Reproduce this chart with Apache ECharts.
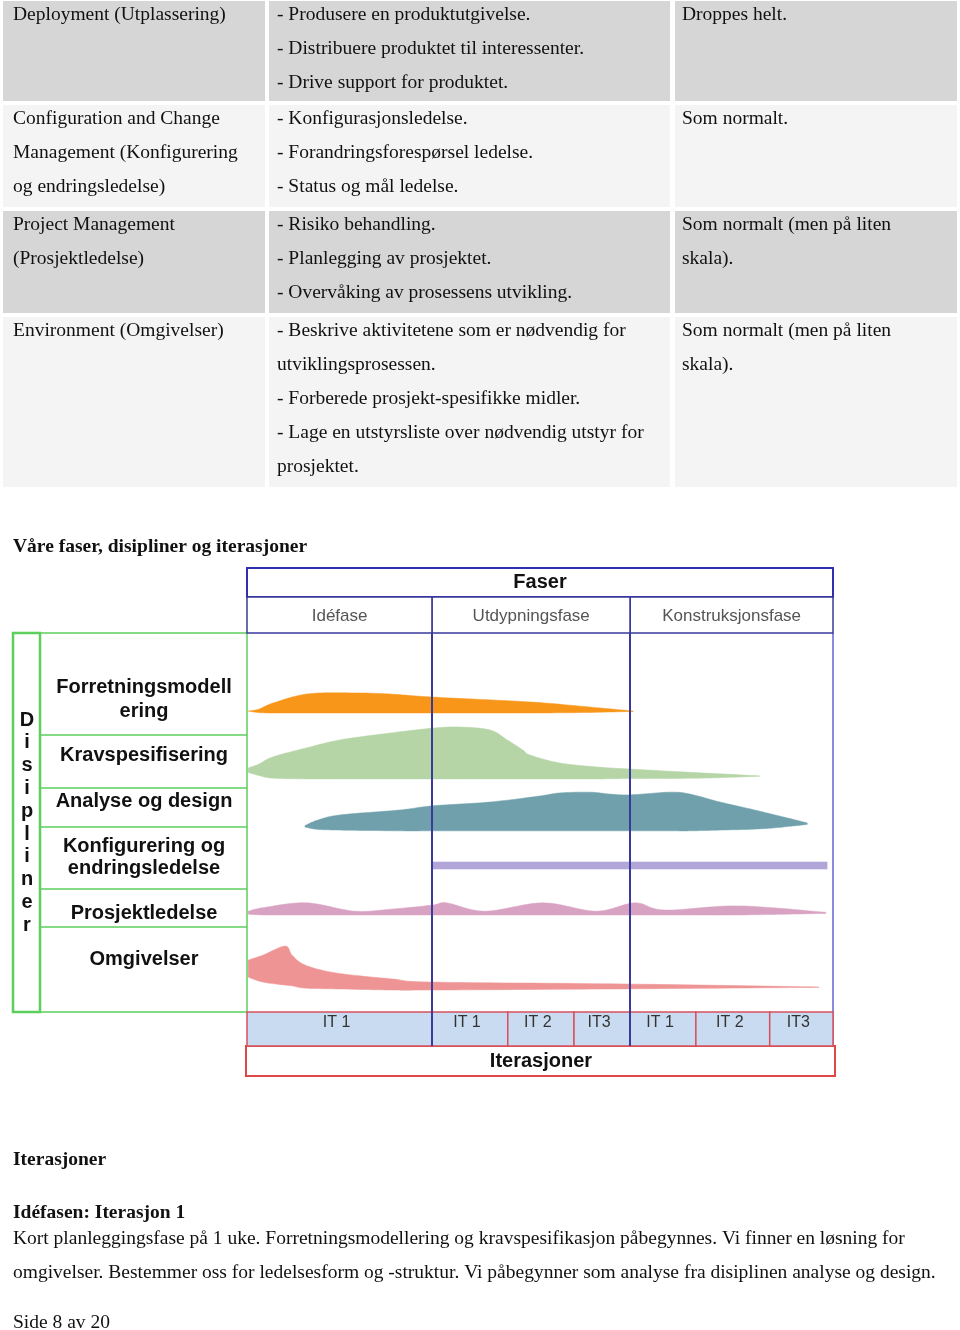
<!DOCTYPE html>
<html><head><meta charset="utf-8">
<script src="https://cdn.jsdelivr.net/npm/echarts@6/dist/echarts.min.js"></script>
<style>html,body{margin:0;padding:0;background:#fff}#c{width:960px;height:1330px}</style>
</head><body><div id="c"></div>
<script>
// ---------- table text ----------
const tableNames = [
  ['Deployment (Utplassering)'],
  ['Configuration and Change', 'Management (Konfigurering', 'og endringsledelse)'],
  ['Project Management', '(Prosjektledelse)'],
  ['Environment (Omgivelser)']
];
const tableActs = [
  ['- Produsere en produktutgivelse.', '- Distribuere produktet til interessenter.', '- Drive support for produktet.'],
  ['- Konfigurasjonsledelse.', '- Forandringsforespørsel ledelse.', '- Status og mål ledelse.'],
  ['- Risiko behandling.', '- Planlegging av prosjektet.', '- Overvåking av prosessens utvikling.'],
  ['- Beskrive aktivitetene som er nødvendig for', 'utviklingsprosessen.', '- Forberede prosjekt-spesifikke midler.', '- Lage en utstyrsliste over nødvendig utstyr for', 'prosjektet.']
];
const tableNotes = [
  ['Droppes helt.'],
  ['Som normalt.'],
  ['Som normalt (men på liten', 'skala).'],
  ['Som normalt (men på liten', 'skala).']
];

// ---------- diagram labels ----------
const chartHeading = 'Våre faser, disipliner og iterasjoner';
const phaseTitle = 'Faser';
const phaseNames = ['Idéfase', 'Utdypningsfase', 'Konstruksjonsfase'];
const phaseBounds = [0, 31.6, 65.4, 100];           // % of project time
const iterTitle = 'Iterasjoner';
const iterNames = ['IT 1', 'IT 1', 'IT 2', 'IT3', 'IT 1', 'IT 2', 'IT3'];
const iterBounds = [0, 31.6, 44.5, 55.8, 65.4, 76.6, 89.2, 100];
const disciplineWord = 'Disipliner';
const disciplineLabels = [['Forretningsmodell', 'ering'], ['Kravspesifisering'], ['Analyse og design'],
  ['Konfigurering og', 'endringsledelse'], ['Prosjektledelse'], ['Omgivelser']];

// ---------- hump profiles: x = % of project time, top/bottom = % depth of the discipline area ----------
const forretX      = [0.2, 2.0, 4.4, 10.2, 17.6, 24.4, 31.6, 48.3, 56.8, 65.9];
const forretTop    = [20.6, 20.1, 18.5, 16.1, 15.8, 16.1, 16.9, 18.2, 19.3, 20.6];
const forretBottom = [20.6, 21.0, 21.1, 21.1, 21.1, 21.1, 21.1, 21.1, 21.0, 20.7];

const kravX      = [0.2, 2.0, 4.4, 10.2, 15.9, 24.4, 31.7, 36.3, 41.5, 44.4, 47.1, 48.3, 53.4, 60.2, 65.4, 77.3, 87.5];
const kravTop    = [35.6, 34.6, 32.7, 30.3, 28.2, 26.4, 25.1, 24.8, 25.6, 28.2, 30.9, 32.2, 34.3, 35.4, 35.9, 36.9, 37.7];
const kravBottom = [36.8, 37.6, 38.3, 38.5, 38.5, 38.5, 38.5, 38.5, 38.5, 38.5, 38.5, 38.5, 38.5, 38.5, 38.4, 38.3, 37.8];

const anaX      = [9.9, 12.0, 15.9, 26.1, 31.7, 41.5, 50.0, 53.4, 58.5, 61.9, 65.4, 72.2, 75.6, 80.7, 85.8, 90.1, 95.6];
const anaTop    = [50.8, 49.4, 48.0, 46.7, 45.6, 44.6, 43.0, 42.2, 42.0, 42.5, 42.7, 42.0, 42.5, 44.6, 46.4, 48.0, 50.1];
const anaBottom = [51.2, 51.8, 52.0, 52.2, 52.2, 52.2, 52.2, 52.2, 52.2, 52.2, 52.2, 52.2, 52.2, 52.0, 51.8, 51.4, 50.5];

const konfX      = [31.7, 65.4, 99.0];
const konfTop    = [60.4, 60.4, 60.4];
const konfBottom = [62.3, 62.3, 62.3];

const prosX      = [0.2, 3.0, 10.2, 18.4, 25.0, 31.6, 34.1, 40.6, 50.5, 59.6, 66.2, 71.3, 83.8, 98.8];
const prosTop    = [73.4, 72.4, 71.2, 73.4, 72.8, 71.8, 71.2, 73.4, 71.2, 73.4, 71.2, 73.1, 72.0, 73.7];
const prosBottom = [74.2, 74.4, 74.4, 74.4, 74.4, 74.4, 74.4, 74.4, 74.4, 74.4, 74.4, 74.4, 74.4, 74.0];

const omgX      = [0.2, 2.7, 6.5, 7.7, 9.9, 15.2, 24.9, 31.6, 64.2, 97.6];
const omgTop    = [86.3, 85.0, 82.6, 85.0, 87.6, 89.7, 91.3, 92.1, 92.6, 93.4];
const omgBottom = [90.8, 92.1, 92.9, 93.1, 93.7, 93.9, 94.2, 94.2, 93.9, 93.5];

// ---------- body text ----------
const sectionTitle = 'Iterasjoner';
const subTitle = 'Idéfasen: Iterasjon 1';
const paragraphLines = [
  'Kort planleggingsfase på 1 uke. Forretningsmodellering og kravspesifikasjon påbegynnes. Vi finner en løsning for',
  'omgivelser. Bestemmer oss for ledelsesform og -struktur. Vi påbegynner som analyse fra disiplinen analyse og design.'
];
const footer = 'Side 8 av 20';

// ================= build =================
const SERIF = '"Liberation Serif", "Times New Roman", serif';
const SANS = '"Liberation Sans", Arial, sans-serif';
const BLUE = '#3a3a9c';
const GREEN = '#5ccf5c';
const RED = '#e04848';

const profiles = [
  {x: forretX, top: forretTop, bottom: forretBottom, color: '#f8961a'},
  {x: kravX, top: kravTop, bottom: kravBottom, color: '#b5d5a7'},
  {x: anaX, top: anaTop, bottom: anaBottom, color: '#6fa0ab'},
  {x: konfX, top: konfTop, bottom: konfBottom, color: '#b2a6d9'},
  {x: prosX, top: prosTop, bottom: prosBottom, color: '#d8a3c3'},
  {x: omgX, top: omgTop, bottom: omgBottom, color: '#ee9494'}
];

const g = [];
// table
const rowTops = [1, 105, 211, 317], rowBots = [101, 207, 313, 487];
const colL = [3, 269, 675], colR = [265, 670, 957], colText = [13, 277, 682];
const rowFill = ['#d6d6d6', '#f4f4f4', '#d6d6d6', '#f4f4f4'];
const tableCols = [tableNames, tableActs, tableNotes];
for (let r = 0; r < 4; r++) {
  for (let c = 0; c < 3; c++) {
    g.push({type: 'rect', shape: {x: colL[c], y: rowTops[r], width: colR[c] - colL[c], height: rowBots[r] - rowTops[r]},
      style: {fill: rowFill[r]}, z: 0});
    tableCols[c][r].forEach((line, k) => {
      g.push({type: 'text', x: colText[c], y: rowTops[r] + 14 + 34 * k, z: 1,
        style: {text: line, fontFamily: SERIF, fontSize: 19.5, fill: '#111', verticalAlign: 'middle'}});
    });
  }
}
function serifText(txt, x, y, bold) {
  g.push({type: 'text', x: x, y: y, z: 1, style: {text: txt, fontFamily: SERIF, fontSize: 19.5,
    fontWeight: bold ? 'bold' : 'normal', fill: '#111', verticalAlign: 'middle'}});
}
serifText(chartHeading, 13, 547, true);
serifText(sectionTitle, 13, 1160, true);
serifText(subTitle, 13, 1213, true);
paragraphLines.forEach((l, i) => serifText(l, 13, 1239 + 34 * i, false));
serifText(footer, 13, 1323, false);

// diagram frames
g.push({type: 'rect', shape: {x: 247, y: 568, width: 586, height: 29}, style: {fill: '#fff', stroke: '#2f2fb0', lineWidth: 2}, z: 2});
g.push({type: 'text', x: 540, y: 582, z: 3, style: {text: phaseTitle, fontFamily: SANS, fontSize: 20, fontWeight: 'bold', fill: '#111', align: 'center', verticalAlign: 'middle'}});
g.push({type: 'line', shape: {x1: 833, y1: 633, x2: 833, y2: 1046}, style: {stroke: '#8a8ae0', lineWidth: 2}, z: 2});
g.push({type: 'rect', shape: {x: 246, y: 1046, width: 589, height: 30}, style: {fill: '#fff', stroke: RED, lineWidth: 2}, z: 2});
g.push({type: 'text', x: 541, y: 1061, z: 3, style: {text: iterTitle, fontFamily: SANS, fontSize: 20, fontWeight: 'bold', fill: '#111', align: 'center', verticalAlign: 'middle'}});
// green discipline panel
g.push({type: 'rect', shape: {x: 13, y: 633, width: 27, height: 379}, style: {fill: 'none', stroke: GREEN, lineWidth: 2.5}, z: 2});
g.push({type: 'rect', shape: {x: 40, y: 633, width: 207, height: 379}, style: {fill: 'none', stroke: GREEN, lineWidth: 1.5}, z: 2});
[735, 788, 827, 889, 927].forEach(y => g.push({type: 'line', shape: {x1: 40, y1: y, x2: 247, y2: y}, style: {stroke: GREEN, lineWidth: 1.5}, z: 2}));
const labelLineY = [[687, 711], [755], [801], [846, 868], [913], [959]];
disciplineLabels.forEach((lines, i) => lines.forEach((l, k) => {
  g.push({type: 'text', x: 144, y: labelLineY[i][k], z: 3, style: {text: l, fontFamily: SANS, fontSize: 20, fontWeight: 'bold', fill: '#111', align: 'center', verticalAlign: 'middle'}});
}));
disciplineWord.split('').forEach((ch, i) => {
  g.push({type: 'text', x: 27, y: 720 + 22.8 * i, z: 3, style: {text: ch, fontFamily: SANS, fontSize: 20, fontWeight: 'bold', fill: '#111', align: 'center', verticalAlign: 'middle'}});
});

// smooth an edge (pixel points, x increasing) for drawing only
function smoothEdge(pts) {
  if (pts.length < 3) return pts.slice();
  const out = [];
  for (let i = 0; i < pts.length - 1; i++) {
    const p0 = pts[Math.max(0, i - 1)], p1 = pts[i], p2 = pts[i + 1], p3 = pts[Math.min(pts.length - 1, i + 2)];
    const steps = 14;
    for (let s = 0; s < steps; s++) {
      const t = s / steps, t2 = t * t, t3 = t2 * t;
      const f = k => 0.5 * ((2 * p1[k]) + (-p0[k] + p2[k]) * t + (2 * p0[k] - 5 * p1[k] + 4 * p2[k] - p3[k]) * t2 + (-p0[k] + 3 * p1[k] - 3 * p2[k] + p3[k]) * t3);
      out.push([f(0), f(1)]);
    }
  }
  out.push(pts[pts.length - 1]);
  return out;
}

const series = [];
series.push({type: 'custom', xAxisIndex: 0, yAxisIndex: 0, silent: true, clip: false,
  data: profiles.map(p => [p.x[0], p.x[p.x.length - 1]]),
  encode: {x: [0, 1]},
  renderItem: (params, api) => {
    const p = profiles[params.dataIndex];
    const topPts = smoothEdge(p.x.map((v, j) => api.coord([v, p.top[j]])));
    const botPts = smoothEdge(p.x.map((v, j) => api.coord([v, p.bottom[j]])));
    const pts = topPts.concat(botPts.reverse());
    return {type: 'polygon', shape: {points: pts}, style: {fill: p.color, stroke: p.color, lineWidth: 0.5}};
  }});
const phaseLineData = phaseBounds.slice(1, -1).map(v => ({xAxis: v}));
series.push({type: 'line', xAxisIndex: 0, yAxisIndex: 0, data: [], silent: true, z: 5,
  markLine: {symbol: 'none', silent: true, label: {show: false}, lineStyle: {color: BLUE, width: 2, type: 'solid'}, data: phaseLineData}});
// phase row
series.push({type: 'custom', xAxisIndex: 1, yAxisIndex: 1, silent: true,
  data: phaseNames.map((n, i) => [phaseBounds[i], phaseBounds[i + 1]]),
  encode: {x: [0, 1]},
  renderItem: (params, api) => {
    const p0 = api.coord([api.value(0), 1]), p1 = api.coord([api.value(1), 0]);
    return {type: 'group', children: [
      {type: 'rect', shape: {x: p0[0], y: p0[1], width: p1[0] - p0[0], height: p1[1] - p0[1]}, style: {fill: '#fff', stroke: BLUE, lineWidth: 1.5}},
      {type: 'text', style: {text: phaseNames[params.dataIndex], x: (p0[0] + p1[0]) / 2, y: (p0[1] + p1[1]) / 2 + 1, align: 'center', verticalAlign: 'middle', fontFamily: SANS, fontSize: 17, fill: '#555'}}
    ]};
  }});
// iteration row
series.push({type: 'custom', xAxisIndex: 2, yAxisIndex: 2, silent: true,
  data: iterNames.map((n, i) => [iterBounds[i], iterBounds[i + 1]]),
  encode: {x: [0, 1]},
  renderItem: (params, api) => {
    const p0 = api.coord([api.value(0), 1]), p1 = api.coord([api.value(1), 0]);
    return {type: 'group', children: [
      {type: 'rect', shape: {x: p0[0], y: p0[1], width: p1[0] - p0[0], height: p1[1] - p0[1]}, style: {fill: '#c9dbf0', stroke: '#d8505e', lineWidth: 1.5}},
      {type: 'text', style: {text: iterNames[params.dataIndex], x: (p0[0] + p1[0]) / 2 - 3, y: p0[1] + 11, align: 'center', verticalAlign: 'middle', fontFamily: SANS, fontSize: 16, fill: '#333'}}
    ]};
  }});
series.push({type: 'line', xAxisIndex: 2, yAxisIndex: 2, data: [], silent: true, z: 5,
  markLine: {symbol: 'none', silent: true, label: {show: false}, lineStyle: {color: BLUE, width: 2, type: 'solid'}, data: phaseLineData}});

const hideAxis = {show: false};
const option = {
  animation: false,
  backgroundColor: '#fff',
  grid: [
    {left: 247, top: 633, width: 586, height: 379},
    {left: 247, top: 597, width: 586, height: 36},
    {left: 247, top: 1012, width: 586, height: 34}
  ],
  xAxis: [0, 1, 2].map(i => Object.assign({type: 'value', gridIndex: i, min: 0, max: 100}, hideAxis)),
  yAxis: [
    Object.assign({type: 'value', gridIndex: 0, min: 0, max: 100, inverse: true}, hideAxis),
    Object.assign({type: 'value', gridIndex: 1, min: 0, max: 1}, hideAxis),
    Object.assign({type: 'value', gridIndex: 2, min: 0, max: 1}, hideAxis)
  ],
  graphic: {elements: g},
  series: series
};
const chart = echarts.init(document.getElementById('c'), null, {renderer: 'canvas'});
chart.setOption(option);
</script></body></html>
